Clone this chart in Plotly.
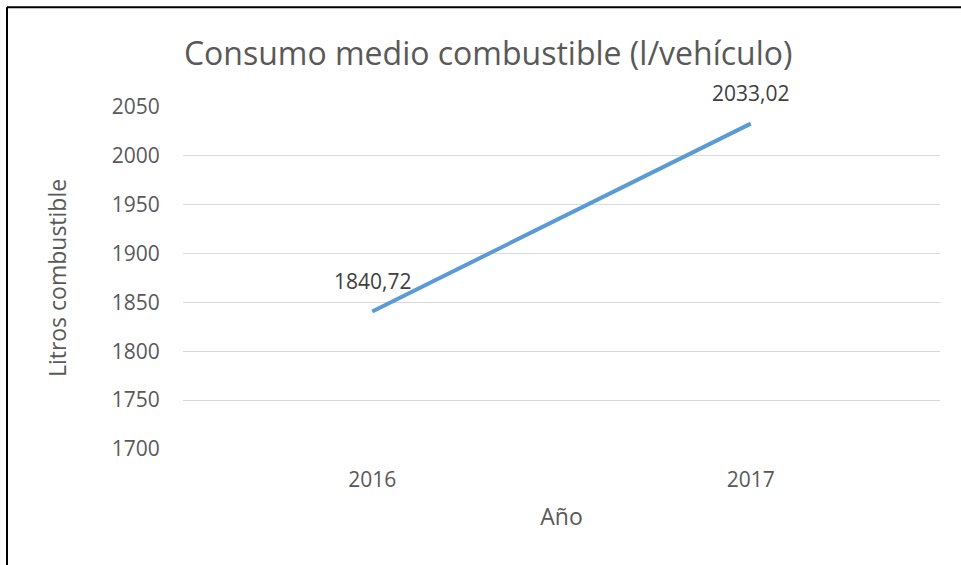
import plotly.graph_objects as go

years = ["2016", "2017"]
litros = [1840.72, 2033.02]
y_ticks = [1700, 1750, 1800, 1850, 1900, 1950, 2000, 2050]

TEXT = "#595959"
FONT = "Open Sans, Liberation Sans, sans-serif"

fig = go.Figure()
fig.add_scatter(
    x=years,
    y=litros,
    mode="lines",
    line=dict(color="#5B9BD5", width=4),
    hoverinfo="x+y",
)

# value labels above each point (category index as x)
for i, val in enumerate(litros):
    fig.add_annotation(
        x=i,
        y=val,
        xref="x",
        yref="y",
        text=f"{val:.2f}".replace(".", ","),
        showarrow=False,
        yshift=31,
        font=dict(size=21, color="#404040", family=FONT),
    )

fig.update_layout(
    width=961,
    height=565,
    paper_bgcolor="white",
    plot_bgcolor="white",
    margin=dict(l=183, r=21, t=107, b=116),
    showlegend=False,
    font=dict(family=FONT, color=TEXT, size=21),
    title=dict(
        text="Consumo medio combustible (l/vehículo)",
        x=0.508,
        xanchor="center",
        y=0.905,
        yanchor="middle",
        font=dict(size=32, color=TEXT, family=FONT),
    ),
    xaxis=dict(
        type="category",
        range=[-0.5, 1.5],
        showgrid=False,
        showline=False,
        zeroline=False,
        ticks="outside",
        ticklen=12,
        tickcolor="rgba(0,0,0,0)",
        tickfont=dict(size=21, color=TEXT),
        title=dict(text="Año", font=dict(size=23, color=TEXT), standoff=16),
    ),
    yaxis=dict(
        range=[1700, 2050],
        tickvals=y_ticks,
        gridcolor="#D9D9D9",
        gridwidth=1,
        zeroline=False,
        showline=False,
        ticks="outside",
        ticklen=18,
        tickcolor="rgba(0,0,0,0)",
        tickfont=dict(size=21, color=TEXT),
        title=dict(text="Litros combustible", font=dict(size=23, color=TEXT), standoff=38),
    ),
)

# frame lines at the left and top of the picture
fig.add_shape(type="line", xref="paper", yref="paper",
              x0=-0.2325, x1=-0.2325, y0=1.292, y1=-0.35,
              line=dict(color="black", width=2))
fig.add_shape(type="line", xref="paper", yref="paper",
              x0=-0.2325, x1=1.03, y0=1.292, y1=1.292,
              line=dict(color="black", width=2))

fig.write_html(
    "out.html",
    config={"displayModeBar": False},
    post_script="document.body.style.margin='0px';",
)
